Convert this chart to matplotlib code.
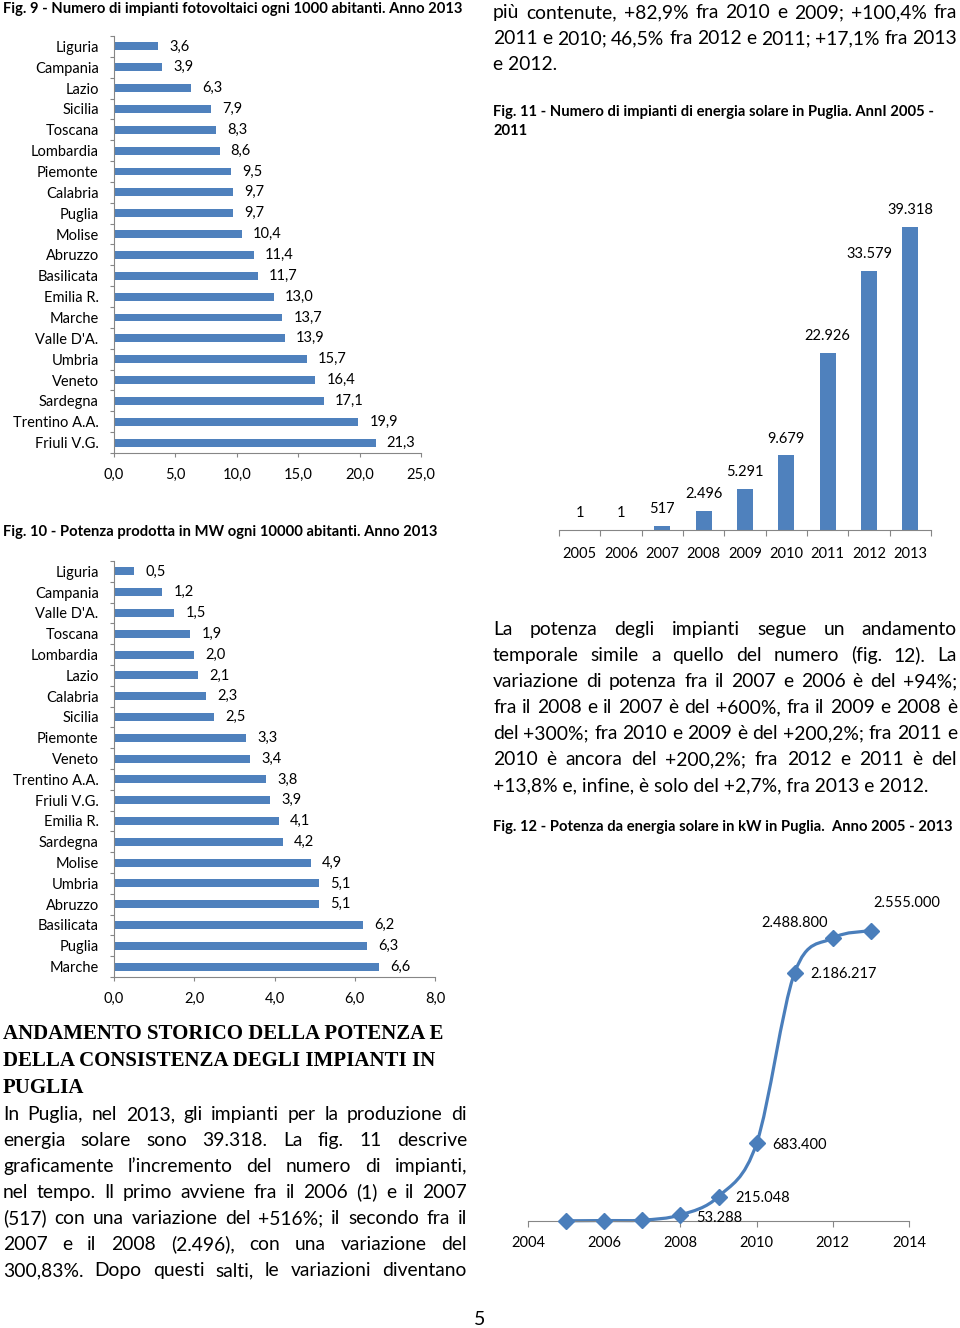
import matplotlib
matplotlib.use("Agg")
import matplotlib.pyplot as plt
from matplotlib import font_manager
from matplotlib.path import Path
from matplotlib.patches import PathPatch
import numpy as np

# Fig. 9 - impianti fotovoltaici ogni 1000 abitanti, 2013
regioni_fig9 = ["Liguria", "Campania", "Lazio", "Sicilia", "Toscana", "Lombardia",
                "Piemonte", "Calabria", "Puglia", "Molise", "Abruzzo", "Basilicata",
                "Emilia R.", "Marche", "Valle D'A.", "Umbria", "Veneto", "Sardegna",
                "Trentino A.A.", "Friuli V.G."]
impianti_1000 = [3.6, 3.9, 6.3, 7.9, 8.3, 8.6, 9.5, 9.7, 9.7, 10.4, 11.4, 11.7,
                 13.0, 13.7, 13.9, 15.7, 16.4, 17.1, 19.9, 21.3]
ticks_fig9 = [0, 5, 10, 15, 20, 25]

# Fig. 10 - potenza in MW ogni 10000 abitanti, 2013
regioni_fig10 = ["Liguria", "Campania", "Valle D'A.", "Toscana", "Lombardia", "Lazio",
                 "Calabria", "Sicilia", "Piemonte", "Veneto", "Trentino A.A.",
                 "Friuli V.G.", "Emilia R.", "Sardegna", "Molise", "Umbria", "Abruzzo",
                 "Basilicata", "Puglia", "Marche"]
potenza_10000 = [0.5, 1.2, 1.5, 1.9, 2.0, 2.1, 2.3, 2.5, 3.3, 3.4, 3.8, 3.9, 4.1,
                 4.2, 4.9, 5.1, 5.1, 6.2, 6.3, 6.6]
ticks_fig10 = [0, 2, 4, 6, 8]

# Fig. 11 - numero impianti solari in Puglia
anni_fig11 = [2005, 2006, 2007, 2008, 2009, 2010, 2011, 2012, 2013]
impianti_puglia = [1, 1, 517, 2496, 5291, 9679, 22926, 33579, 39318]

# Fig. 12 - potenza in kW in Puglia (2005-2007 stimati, non etichettati)
anni_fig12 = [2005, 2006, 2007, 2008, 2009, 2010, 2011, 2012, 2013]
potenza_kw = [2000, 3900, 7600, 53288, 215048, 683400, 2186217, 2488800, 2555000]
etichettati_fig12 = [False, False, False, True, True, True, True, True, True]
ticks_fig12 = [2004, 2006, 2008, 2010, 2012, 2014]

W, H = 960, 1328
BLUE = "#4F81BD"
LINE_BLUE = "#4A7EBB"
GRAY = "#868686"
LBL = 10.5      # chart label size
TIT = 10.6      # figure caption size


def pick_font(names):
    for n in names:
        try:
            font_manager.findfont(n, fallback_to_default=False)
            return n
        except ValueError:
            pass
    return "DejaVu Sans"


SANS = pick_font(["Liberation Sans Narrow", "Lato", "Open Sans"])
SERIF = pick_font(["Liberation Serif", "DejaVu Serif"])
plt.rcParams["font.family"] = [SANS, "DejaVu Sans"]

fig = plt.figure(figsize=(W / 100, H / 100), dpi=100)
fig.patch.set_facecolor("white")
renderer = fig.canvas.get_renderer()


def add_ax(l, t, r, b):
    return fig.add_axes([l / W, 1 - b / H, (r - l) / W, (b - t) / H])


def put(x, y, s, **kw):
    return fig.text(x / W, 1 - y / H, s, va="baseline", **kw)


def justify(x0, x1, y, line, **kw):
    words = line.split()
    arts = [put(0, y, w, **kw) for w in words]
    widths = [a.get_window_extent(renderer).width for a in arts]
    gap = (x1 - x0 - sum(widths)) / max(len(words) - 1, 1)
    x = x0
    for a, w in zip(arts, widths):
        a.set_position((x / W, 1 - y / H))
        x += w + gap


def comma(v):
    return f"{v:.1f}".replace(".", ",")


def dots(v):
    return f"{v:,}".replace(",", ".")


def hbar_chart(ax, cats, vals, xticks):
    y = np.arange(len(cats))
    bars = ax.barh(y, vals, height=0.38, color=BLUE)
    ax.bar_label(bars, labels=[comma(v) for v in vals], padding=8, fontsize=LBL)
    ax.set_ylim(len(cats) - 0.5, -0.5)
    ax.set_xlim(xticks[0], xticks[-1])
    ax.set_xticks(xticks)
    ax.set_xticklabels([comma(v) for v in xticks], fontsize=LBL)
    ax.set_yticks(np.arange(-0.5, len(cats)))
    ax.set_yticklabels([])
    ax.set_yticks(y, minor=True)
    ax.set_yticklabels(cats, minor=True, fontsize=LBL)
    ax.tick_params(axis="y", which="minor", length=0, pad=11)
    ax.tick_params(axis="y", which="major", length=3, color=GRAY, width=0.8)
    ax.tick_params(axis="x", length=3, color=GRAY, width=0.8, pad=8)
    for s in ["top", "right"]:
        ax.spines[s].set_visible(False)
    for s in ["left", "bottom"]:
        ax.spines[s].set_color(GRAY)
        ax.spines[s].set_linewidth(0.8)


# ---- Fig. 9
put(3, 13, "Fig. 9 - Numero di impianti fotovoltaici ogni 1000 abitanti. Anno 2013",
    fontsize=TIT, fontweight="bold")
ax9 = add_ax(114, 36, 421, 453)
hbar_chart(ax9, regioni_fig9, impianti_1000, ticks_fig9)

# ---- Fig. 10
put(3, 536, "Fig. 10 - Potenza prodotta in MW ogni 10000 abitanti. Anno 2013",
    fontsize=TIT, fontweight="bold")
ax10 = add_ax(114, 561, 435, 977)
hbar_chart(ax10, regioni_fig10, potenza_10000, ticks_fig10)

# ---- Fig. 11
put(493, 116, "Fig. 11 - Numero di impianti di energia solare in Puglia. AnnI 2005 -",
    fontsize=TIT, fontweight="bold")
put(493, 135, "2011", fontsize=TIT, fontweight="bold")
ax11 = add_ax(559, 183, 931, 530)
x11 = np.arange(len(anni_fig11))
bars11 = ax11.bar(x11, impianti_puglia, width=0.38, color=BLUE)
ax11.bar_label(bars11, labels=[dots(v) for v in impianti_puglia], padding=7, fontsize=LBL)
ax11.set_xlim(-0.5, len(anni_fig11) - 0.5)
ax11.set_ylim(0, 45000)
ax11.set_xticks(np.arange(-0.5, len(anni_fig11)))
ax11.set_xticklabels([])
ax11.set_xticks(x11, minor=True)
ax11.set_xticklabels([str(a) for a in anni_fig11], minor=True, fontsize=LBL)
ax11.tick_params(axis="x", which="minor", length=0, pad=12)
ax11.tick_params(axis="x", which="major", length=4, color=GRAY, width=0.8)
ax11.set_yticks([])
for s in ["top", "right", "left"]:
    ax11.spines[s].set_visible(False)
ax11.spines["bottom"].set_color(GRAY)
ax11.spines["bottom"].set_linewidth(0.8)

# ---- Fig. 12
put(493, 831, "Fig. 12 - Potenza da energia solare in kW in Puglia.  Anno 2005 - 2013",
    fontsize=TIT, fontweight="bold")
ax12 = add_ax(528, 880, 909, 1221)
# smoothed line like Excel: cubic Bezier segments through the data points
pts = np.column_stack([anni_fig12, potenza_kw]).astype(float)
verts, codes = [pts[0]], [Path.MOVETO]
n = len(pts)
for i in range(n - 1):
    p0, p1 = pts[max(i - 1, 0)], pts[i]
    p2, p3 = pts[i + 1], pts[min(i + 2, n - 1)]
    verts += [p1 + (p2 - p0) / 6, p2 - (p3 - p1) / 6, p2]
    codes += [Path.CURVE4] * 3
ax12.add_patch(PathPatch(Path(verts, codes), fill=False, edgecolor=LINE_BLUE,
                         lw=2.3, clip_on=False, capstyle="round"))
ax12.plot(anni_fig12, potenza_kw, ls="none", marker="D", ms=8, color=LINE_BLUE,
          clip_on=False, zorder=3)
label_offsets = [None, None, None, (39, -3), (44, -1), (43, -2), (49, -1), (-38, 15), (36, 28)]
for xv, yv, show, off in zip(anni_fig12, potenza_kw, etichettati_fig12, label_offsets):
    if show:
        ax12.annotate(dots(yv), (xv, yv), xytext=off, textcoords="offset pixels",
                      ha="center", va="center", fontsize=LBL)
ax12.set_xlim(2004, 2014)
ax12.set_ylim(0, 3000000)
ax12.set_xticks(ticks_fig12)
ax12.set_xticklabels([str(t) for t in ticks_fig12], fontsize=LBL)
ax12.tick_params(axis="x", length=4, color=GRAY, width=0.8, pad=7)
ax12.set_yticks([])
for s in ["top", "right", "left"]:
    ax12.spines[s].set_visible(False)
ax12.spines["bottom"].set_color(GRAY)
ax12.spines["bottom"].set_linewidth(0.8)

# ---- body text
body = dict(fontsize=13.9)
justify(493, 957, 18, "più contenute, +82,9% fra 2010 e 2009; +100,4% fra", **body)
justify(493, 957, 44, "2011 e 2010; 46,5% fra 2012 e 2011; +17,1% fra 2013", **body)
put(493, 70, "e 2012.", **body)

right_par = ["La potenza degli impianti segue un andamento",
             "temporale simile a quello del numero (fig. 12). La",
             "variazione di potenza fra il 2007 e 2006 è del +94%;",
             "fra il 2008 e il 2007 è del +600%, fra il 2009 e 2008 è",
             "del +300%; fra 2010 e 2009 è del +200,2%; fra 2011 e",
             "2010 è ancora del +200,2%; fra 2012 e 2011 è del"]
for i, line in enumerate(right_par):
    justify(493, 957, 635 + 26 * i, line, **body)
put(493, 635 + 26 * 6, "+13,8% e, infine, è solo del +2,7%, fra 2013 e 2012.", **body)

heading = ["ANDAMENTO STORICO DELLA POTENZA E",
           "DELLA CONSISTENZA DEGLI IMPIANTI IN",
           "PUGLIA"]
for i, line in enumerate(heading):
    put(3, 1039 + 27 * i, line, fontsize=15, fontweight="bold", family=SERIF)

left_par = ["In Puglia, nel 2013, gli impianti per la produzione di",
            "energia solare sono 39.318. La fig. 11 descrive",
            "graficamente l’incremento del numero di impianti,",
            "nel tempo. Il primo avviene fra il 2006 (1) e il 2007",
            "(517) con una variazione del +516%; il secondo fra il",
            "2007 e il 2008 (2.496), con una variazione del",
            "300,83%. Dopo questi salti, le variazioni diventano"]
for i, line in enumerate(left_par):
    justify(3, 467, 1120 + 26 * i, line, **body)

put(480, 1325, "5", fontsize=14, ha="center")

fig.savefig("out.png", dpi=100, facecolor="white")
